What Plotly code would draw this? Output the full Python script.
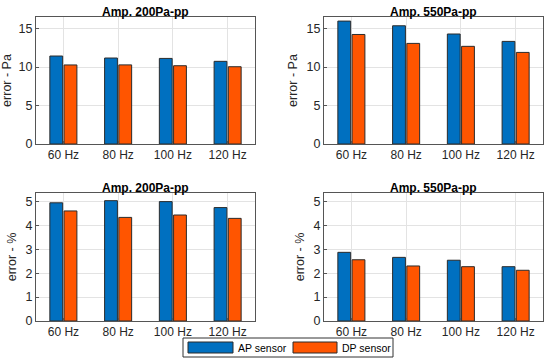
import plotly.graph_objects as go

categories = ["60 Hz", "80 Hz", "100 Hz", "120 Hz"]
series_names = ["AP sensor", "DP sensor"]

# Top row: error in Pa
pa_200_ap = [11.43, 11.17, 11.12, 10.74]
pa_200_dp = [10.27, 10.28, 10.17, 10.04]
pa_550_ap = [15.97, 15.36, 14.29, 13.33]
pa_550_dp = [14.23, 13.07, 12.69, 11.90]

# Bottom row: error in %
pct_200_ap = [4.94, 5.03, 4.99, 4.74]
pct_200_dp = [4.60, 4.33, 4.43, 4.29]
pct_550_ap = [2.87, 2.66, 2.54, 2.27]
pct_550_dp = [2.56, 2.30, 2.27, 2.12]

titles = ["Amp. 200Pa-pp", "Amp. 550Pa-pp", "Amp. 200Pa-pp", "Amp. 550Pa-pp"]
ytitles = ["error - Pa", "error - Pa", "error - %", "error - %"]

AP_COLOR = "#0070C0"
DP_COLOR = "#FF5500"
EDGE = "#2b2b2b"
FONT = "Liberation Sans, Arial, sans-serif"

W, H = 550, 363


def px(x):
    return x / W


def py(y):
    return 1 - y / H


# pixel boxes of the four plot areas (left, right, top, bottom)
boxes = [(36, 255, 17, 144), (324, 543, 17, 144),
         (36, 255, 193, 321), (324, 543, 193, 321)]
yranges = [[0, 16.5], [0, 16.5], [0, 5.35], [0, 5.35]]
ytickvals = [[0, 5, 10, 15], [0, 5, 10, 15], [0, 1, 2, 3, 4, 5], [0, 1, 2, 3, 4, 5]]

data = [(pa_200_ap, pa_200_dp), (pa_550_ap, pa_550_dp),
        (pct_200_ap, pct_200_dp), (pct_550_ap, pct_550_dp)]

fig = go.Figure()
layout = dict(
    width=W, height=H, margin=dict(l=0, r=0, t=0, b=0, autoexpand=False),
    paper_bgcolor="white", plot_bgcolor="white",
    barmode="group", bargap=0.48, bargroupgap=0.1,
    showlegend=False, font=dict(family=FONT, color="#262626"),
)
annotations = []
shapes = []
for i, ((ap, dp), (l, r, t, b)) in enumerate(zip(data, boxes)):
    n = i + 1
    xa = "x" if n == 1 else f"x{n}"
    ya = "y" if n == 1 else f"y{n}"
    fig.add_trace(go.Bar(x=categories, y=ap, name=series_names[0], xaxis=xa, yaxis=ya,
                         marker=dict(color=AP_COLOR, line=dict(color=EDGE, width=1))))
    fig.add_trace(go.Bar(x=categories, y=dp, name=series_names[1], xaxis=xa, yaxis=ya,
                         marker=dict(color=DP_COLOR, line=dict(color=EDGE, width=1))))
    xkey = "xaxis" if n == 1 else f"xaxis{n}"
    ykey = "yaxis" if n == 1 else f"yaxis{n}"
    layout[xkey] = dict(
        domain=[px(l), px(r)], anchor=ya, type="category", range=[-0.5, 3.5],
        automargin=False,
        showgrid=True, gridcolor="#e3e3e3", showline=True, linecolor="#555555",
        linewidth=1, mirror=True, ticks="inside", ticklen=3, tickcolor="#555555",
        tickfont=dict(size=12, color="#262626", family=FONT),
    )
    layout[ykey] = dict(
        domain=[py(b), py(t)], anchor=xa, range=yranges[i],
        automargin=False,
        tickvals=ytickvals[i], showgrid=True, gridcolor="#e3e3e3",
        showline=True, linecolor="#555555", linewidth=1, mirror=True,
        ticks="inside", ticklen=3, tickcolor="#555555", zeroline=False,
        tickfont=dict(size=12.5, color="#262626", family=FONT),
        title=dict(text=ytitles[i], font=dict(size=12.5, color="#262626", family=FONT),
                   standoff=6),
    )
    annotations.append(dict(
        text=f"<b>{titles[i]}</b>", x=px((l + r) / 2), y=py(t - 5),
        xref="paper", yref="paper", xanchor="center", yanchor="middle",
        showarrow=False, font=dict(size=12, color="#000000", family=FONT),
    ))

# legend box drawn as layout decoration
lx0, lx1, ly0, ly1 = 183, 393, 338, 357
shapes.append(dict(type="rect", xref="paper", yref="paper",
                   x0=px(lx0), x1=px(lx1), y0=py(ly1), y1=py(ly0),
                   line=dict(color="#333333", width=1), fillcolor="white"))
legend_items = [(188, 233, AP_COLOR, series_names[0], 236),
                (293, 337, DP_COLOR, series_names[1], 340)]
for sx0, sx1, col, name, tx in legend_items:
    shapes.append(dict(type="rect", xref="paper", yref="paper",
                       x0=px(sx0), x1=px(sx1), y0=py(353), y1=py(342),
                       line=dict(color=EDGE, width=1), fillcolor=col))
    annotations.append(dict(text=name, x=px(tx), y=py(347.5), xref="paper", yref="paper",
                            xanchor="left", yanchor="middle", showarrow=False,
                            font=dict(size=10.5, color="#000000", family=FONT)))

layout["annotations"] = annotations
layout["shapes"] = shapes
fig.update_layout(**layout)
fig.write_html(
    "out.html",
    config={"displayModeBar": False},
    post_script="document.body.style.margin='0';document.body.style.overflow='hidden';",
)
